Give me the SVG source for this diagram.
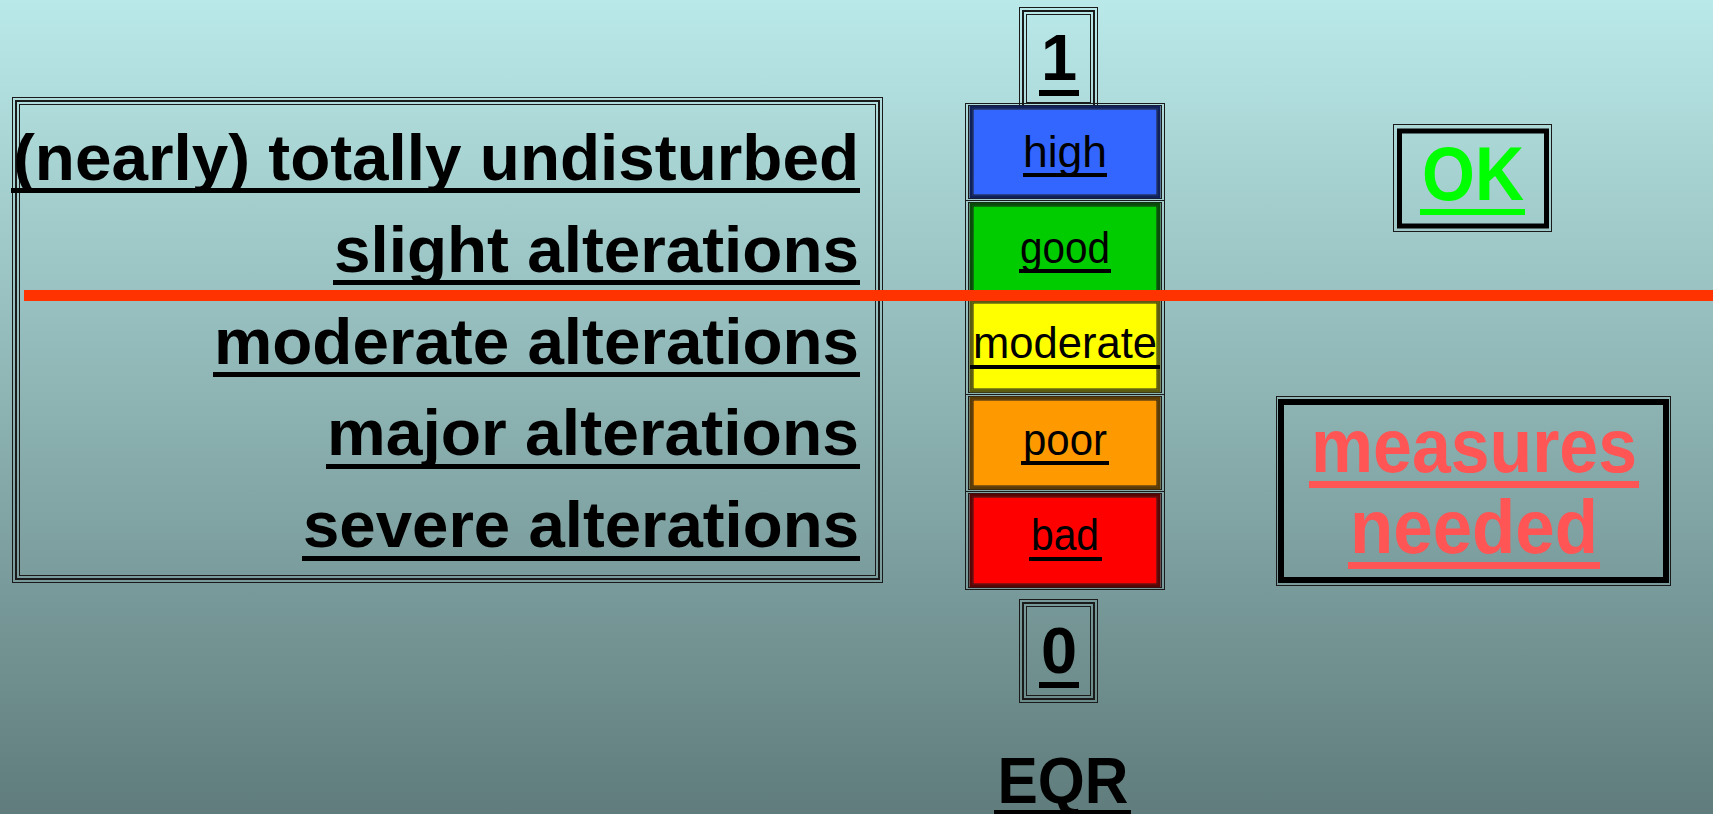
<svg xmlns="http://www.w3.org/2000/svg" width="1713" height="814" viewBox="0 0 1713 814">
<defs>
<linearGradient id="bg" x1="0" y1="0" x2="0" y2="1">
<stop offset="0" stop-color="#BAE9E9"/>
<stop offset="1" stop-color="#607C7C"/>
</linearGradient>
</defs>
<style>
.big{font-family:"Liberation Sans",Arial,sans-serif;font-weight:bold;font-size:65px;fill:#000}
.lbl{font-family:"Liberation Sans",Arial,sans-serif;font-size:45px;fill:#000}
.ul{fill:#000}
.thin{fill:none;stroke:#1a1a1a;stroke-width:1}
.mid{fill:none;stroke:#1a1a1a;stroke-width:2}
</style>
<rect x="0" y="0" width="1713" height="814" fill="url(#bg)"/>

<g id="left-box">
<rect class="thin" x="12.5" y="97.5" width="870" height="485"/>
<rect class="mid" x="16" y="101" width="863" height="478"/>
<rect class="thin" x="19.5" y="104.5" width="856" height="471"/>
<text class="big" x="859" y="180" text-anchor="end" textLength="846" lengthAdjust="spacingAndGlyphs">(nearly) totally undisturbed</text>
<rect class="ul" x="11" y="188" width="849" height="5"/>
<text class="big" x="859" y="272" text-anchor="end" textLength="525" lengthAdjust="spacingAndGlyphs">slight alterations</text>
<rect class="ul" x="333" y="280" width="527" height="5"/>
<text class="big" x="859" y="364" text-anchor="end" textLength="645" lengthAdjust="spacingAndGlyphs">moderate alterations</text>
<rect class="ul" x="213" y="372" width="647" height="5"/>
<text class="big" x="859" y="455" text-anchor="end" textLength="532" lengthAdjust="spacingAndGlyphs">major alterations</text>
<rect class="ul" x="326" y="464" width="534" height="5"/>
<text class="big" x="859" y="547" text-anchor="end" textLength="556" lengthAdjust="spacingAndGlyphs">severe alterations</text>
<rect class="ul" x="302" y="556" width="558" height="5"/>
</g>

<g id="box-1">
<rect class="thin" x="1019.5" y="7.5" width="78" height="102"/>
<rect class="mid" x="1023" y="11" width="71" height="95"/>
<rect class="thin" x="1026.5" y="14.5" width="64" height="88"/>
<text class="big" x="1059" y="80" text-anchor="middle" font-size="66">1</text>
<rect class="ul" x="1039" y="90" width="40" height="6"/>
</g>

<g id="box-0">
<rect class="thin" x="1019.5" y="599.5" width="78" height="103"/>
<rect class="mid" x="1023" y="603" width="71" height="96"/>
<rect class="thin" x="1026.5" y="606.5" width="64" height="89"/>
<text class="big" x="1059" y="673" text-anchor="middle" font-size="66">0</text>
<rect class="ul" x="1039" y="682" width="40" height="6"/>
</g>

<g id="scale">
<g id="cls-high">
<rect class="thin" x="965.5" y="103.5" width="199" height="97"/>
<rect class="thin" x="968.5" y="105.5" width="193" height="93"/>
<rect x="971" y="107" width="188" height="90" fill="#3366FF" stroke="#10205a" stroke-width="3"/>
<rect class="thin" x="973" y="109" width="184" height="86"/>
<text class="lbl" x="1065" y="167" text-anchor="middle" textLength="84" lengthAdjust="spacingAndGlyphs">high</text>
<rect class="ul" x="1023" y="173" width="84" height="4"/>
</g>
<g id="cls-good">
<rect class="thin" x="965.5" y="200.5" width="199" height="97"/>
<rect class="thin" x="968.5" y="202.5" width="193" height="93"/>
<rect x="971" y="204" width="188" height="90" fill="#00CC00" stroke="#0a4a0a" stroke-width="3"/>
<rect class="thin" x="973" y="206" width="184" height="86"/>
<text class="lbl" x="1065" y="263" text-anchor="middle" textLength="90" lengthAdjust="spacingAndGlyphs">good</text>
<rect class="ul" x="1019" y="269" width="92" height="4"/>
</g>
<g id="cls-moderate">
<rect class="thin" x="965.5" y="297.5" width="199" height="97"/>
<rect class="thin" x="968.5" y="299.5" width="193" height="93"/>
<rect x="971" y="301" width="188" height="90" fill="#FFFF00" stroke="#5a5a10" stroke-width="3"/>
<rect class="thin" x="973" y="303" width="184" height="86"/>
<text class="lbl" x="1065" y="358" text-anchor="middle" textLength="184" lengthAdjust="spacingAndGlyphs">moderate</text>
<rect class="ul" x="970" y="365" width="190" height="4"/>
</g>
<g id="cls-poor">
<rect class="thin" x="965.5" y="394.5" width="199" height="97"/>
<rect class="thin" x="968.5" y="396.5" width="193" height="93"/>
<rect x="971" y="398" width="188" height="90" fill="#FF9900" stroke="#5a3a05" stroke-width="3"/>
<rect class="thin" x="973" y="400" width="184" height="86"/>
<text class="lbl" x="1065" y="455" text-anchor="middle" textLength="84" lengthAdjust="spacingAndGlyphs">poor</text>
<rect class="ul" x="1021" y="461" width="88" height="4"/>
</g>
<g id="cls-bad">
<rect class="thin" x="965.5" y="491.5" width="199" height="98"/>
<rect class="thin" x="968.5" y="493.5" width="193" height="94"/>
<rect x="971" y="495" width="188" height="91" fill="#FF0000" stroke="#5a0505" stroke-width="3"/>
<rect class="thin" x="973" y="497" width="184" height="87"/>
<text class="lbl" x="1065" y="550" text-anchor="middle" textLength="68" lengthAdjust="spacingAndGlyphs">bad</text>
<rect class="ul" x="1029" y="557" width="73" height="4"/>
</g>
</g>

<g id="eqr">
<text class="big" x="1063" y="803" text-anchor="middle" font-size="68" textLength="131" lengthAdjust="spacingAndGlyphs">EQR</text>
<rect class="ul" x="994" y="810" width="137" height="4"/>
</g>

<g id="ok-box">
<rect class="thin" x="1393.5" y="124.5" width="158" height="107"/>
<rect fill="none" stroke="#000" stroke-width="5" x="1399.5" y="131" width="147" height="95"/>
<text x="1473" y="200" text-anchor="middle" font-family="Liberation Sans, Arial, sans-serif" font-weight="bold" font-size="76" fill="#00FF00" textLength="102" lengthAdjust="spacingAndGlyphs">OK</text>
<rect x="1420" y="209" width="105" height="6" fill="#00FF00"/>
</g>

<g id="measures-box">
<rect class="thin" x="1276.5" y="396.5" width="394" height="189"/>
<rect fill="none" stroke="#000" stroke-width="6" x="1281" y="402" width="385" height="178"/>
<text x="1474" y="472" text-anchor="middle" font-family="Liberation Sans, Arial, sans-serif" font-weight="bold" font-size="76" fill="#FF5555" textLength="326" lengthAdjust="spacingAndGlyphs">measures</text>
<rect x="1309" y="481" width="330" height="7" fill="#FF5555"/>
<text x="1474" y="553" text-anchor="middle" font-family="Liberation Sans, Arial, sans-serif" font-weight="bold" font-size="76" fill="#FF5555" textLength="248" lengthAdjust="spacingAndGlyphs">needed</text>
<rect x="1348" y="562" width="252" height="7" fill="#FF5555"/>
</g>

<g id="connectors">
<rect id="threshold" x="24" y="290" width="1689" height="11" fill="#FF3300"/>
</g>
</svg>
